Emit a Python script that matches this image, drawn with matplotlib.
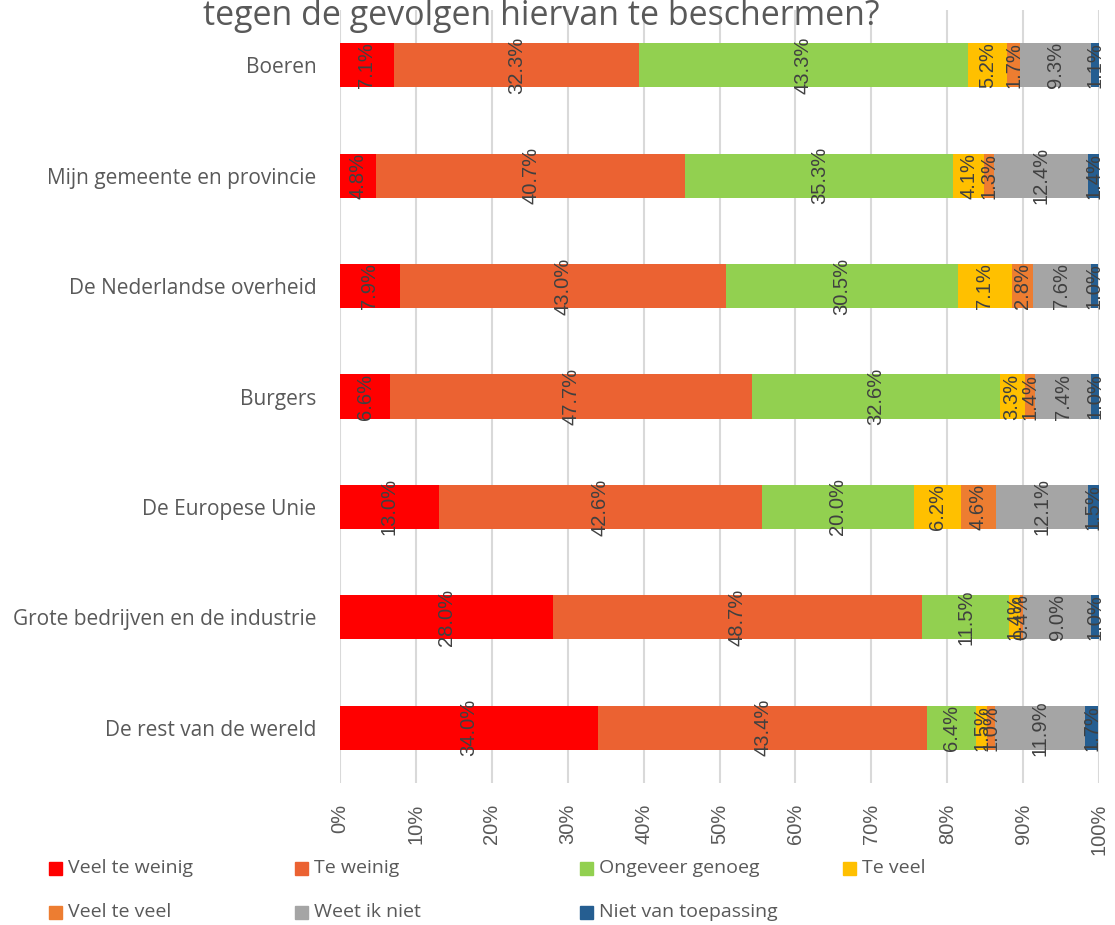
import numpy as np
import matplotlib
matplotlib.use("Agg")
import matplotlib.pyplot as plt
from matplotlib.patches import Rectangle

# categories top to bottom
categories = ["Boeren", "Mijn gemeente en provincie", "De Nederlandse overheid",
              "Burgers", "De Europese Unie", "Grote bedrijven en de industrie",
              "De rest van de wereld"]

series_names = ["Veel te weinig", "Te weinig", "Ongeveer genoeg", "Te veel",
                "Veel te veel", "Weet ik niet", "Niet van toepassing"]
colors = ["#FF0000", "#EB6232", "#92D050", "#FFC000", "#ED7D31", "#A5A5A5", "#255E91"]

veel_te_weinig = [7.1, 4.8, 7.9, 6.6, 13.0, 28.0, 34.0]
te_weinig = [32.3, 40.7, 43.0, 47.7, 42.6, 48.7, 43.4]
ongeveer_genoeg = [43.3, 35.3, 30.5, 32.6, 20.0, 11.5, 6.4]
te_veel = [5.2, 4.1, 7.1, 3.3, 6.2, 1.4, 1.5]
veel_te_veel = [1.7, 1.3, 2.8, 1.4, 4.6, 0.4, 1.0]
weet_ik_niet = [9.3, 12.4, 7.6, 7.4, 12.1, 9.0, 11.9]
niet_van_toepassing = [1.1, 1.4, 1.0, 1.0, 1.5, 1.0, 1.7]

xticks = np.arange(0, 101, 10)
xtick_labels = [f"{t}%" for t in xticks]

title = "tegen de gevolgen hiervan te beschermen?"

series = [veel_te_weinig, te_weinig, ongeveer_genoeg, te_veel,
          veel_te_veel, weet_ik_niet, niet_van_toepassing]

txt_col = "#595959"
lab_col = "#404040"

fig = plt.figure(figsize=(11.15, 9.25), dpi=100)
W, H = 1115, 925
ax = fig.add_axes([340 / W, (H - 783) / H, (1099 - 340) / W, (783 - 10) / H])

y = np.arange(len(categories))
left = np.zeros(len(categories))
for vals, c in zip(series, colors):
    vals = np.array(vals)
    ax.barh(y, vals, left=left, height=0.4, color=c, zorder=2)
    for yi, (l, v) in enumerate(zip(left, vals)):
        ax.text(l + v / 2, yi, f"{v:.1f}%", rotation=90, ha="center", va="center",
                fontsize=14.5, color=lab_col, family="Liberation Sans", zorder=3)
    left += vals

ax.set_xlim(0, 100)
ax.set_ylim(len(categories) - 0.5, -0.5)
ax.set_xticks(xticks)
ax.set_xticklabels(xtick_labels, rotation=90, fontsize=14.5, color=txt_col,
                   family="Liberation Sans")
ax.set_yticks(y)
ax.set_yticklabels(categories, fontsize=15, color=txt_col, family="Open Sans")
ax.tick_params(axis="both", length=0)
ax.tick_params(axis="x", pad=15)
ax.tick_params(axis="y", pad=17)
ax.grid(axis="x", color="#D9D9D9", linewidth=1.5, zorder=0)
ax.set_axisbelow(True)
for s in ax.spines.values():
    s.set_visible(False)

# only the last line of the title is on the canvas, and its top is cut off
fig.text(541 / W, (H - 25) / H, title, ha="center", va="baseline", fontsize=24.5,
         color=txt_col, family="Open Sans", zorder=5)

# legend, laid out like the Excel one
leg_x = [49, 295, 580, 843, 49, 295, 580]
leg_y = [868, 868, 868, 868, 912, 912, 912]
for name, c, lx, ly in zip(series_names, colors, leg_x, leg_y):
    fig.patches.append(Rectangle((lx / W, (H - ly - 6.5) / H), 13 / W, 13 / H,
                                 transform=fig.transFigure, color=c))
    fig.text((lx + 19) / W, (H - ly) / H, name, ha="left", va="center",
             fontsize=14, color=txt_col, family="Open Sans")

fig.savefig("out.png", dpi=100)
